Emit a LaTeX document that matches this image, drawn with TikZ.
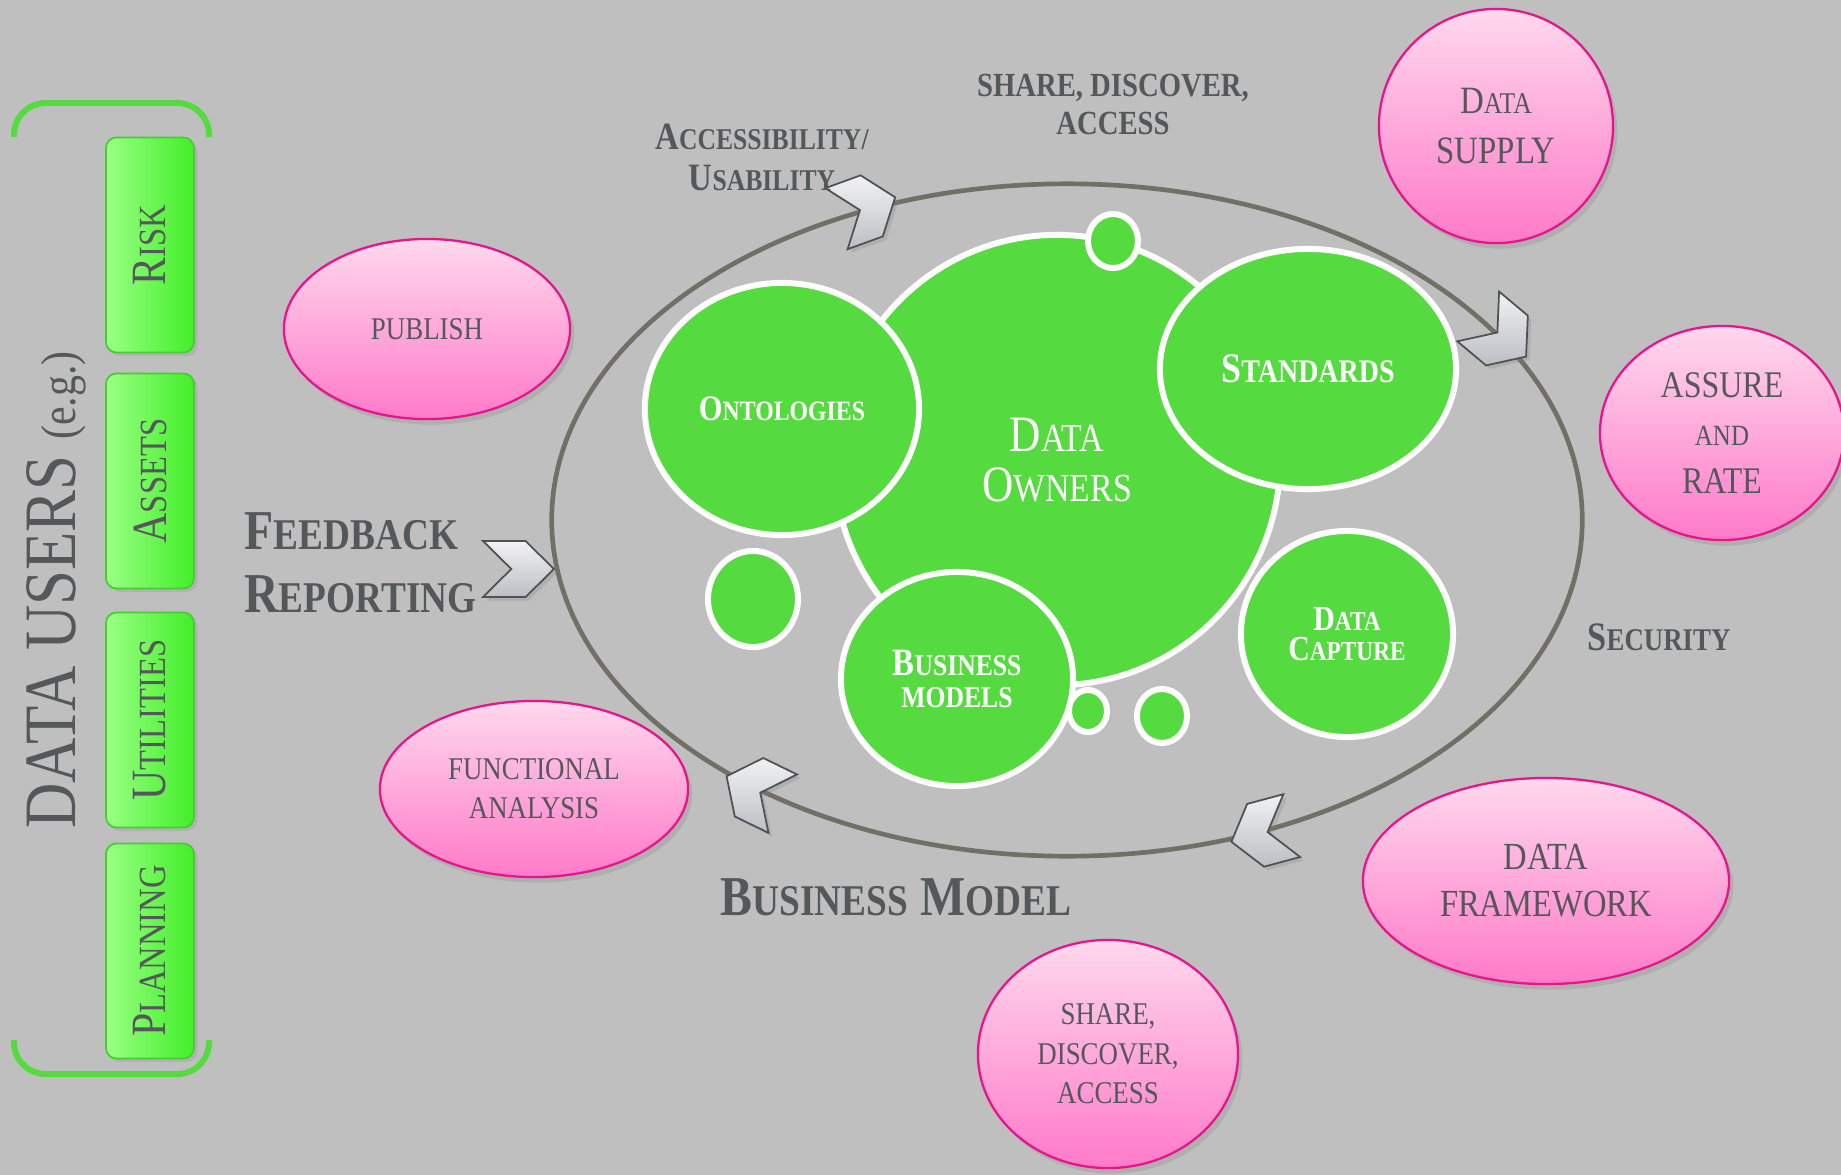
\documentclass[tikz,border=0pt]{standalone}
\usepackage{fontspec}
\setmainfont{Liberation Serif}[FakeStretch=0.85]
\usepackage{tikz}
\usetikzlibrary{shapes.geometric,shadows}

\definecolor{bggray}{RGB}{191,191,191}
\definecolor{txtgray}{RGB}{84,88,91}
\definecolor{owngreen}{RGB}{85,219,63}
\definecolor{ringgray}{RGB}{112,112,102}
\definecolor{pinkedge}{RGB}{230,22,138}
\definecolor{pinktop}{RGB}{255,216,237}
\definecolor{pinkbot}{RGB}{255,122,201}
\definecolor{boxlight}{RGB}{154,255,134}
\definecolor{boxdark}{RGB}{66,238,40}
\definecolor{boxedge}{RGB}{70,205,50}
\definecolor{chevlight}{RGB}{242,242,244}
\definecolor{chevdark}{RGB}{188,190,195}
\definecolor{chevedge}{RGB}{78,82,85}

\newcommand\smcap[2]{#1\scalebox{.78}{#2}}

\tikzset{
	pinkball/.style={ellipse, draw=pinkedge, line width=0.65pt, top color=pinktop, bottom color=pinkbot, inner sep=0pt, text=txtgray, align=center, drop shadow={opacity=0.25, shadow xshift=1.2pt, shadow yshift=-1.6pt}},
	greenball/.style={ellipse, draw=white, line width=1.7pt, fill=owngreen, inner sep=0pt, text=white, align=center},
	userbox/.style={rectangle, rounded corners=3pt, draw=boxedge, line width=0.5pt, left color=boxlight, right color=boxdark, minimum width=2.15cm, minimum height=0.88cm, rotate=90, text=txtgray, font=\fontsize{14}{14}\selectfont, drop shadow={opacity=0.2, shadow xshift=1pt, shadow yshift=-1pt}},
	bracket/.style={draw=owngreen, line width=1.7pt, rounded corners=9pt},
	label/.style={text=txtgray, align=center, font=\bfseries},
	chev/.pic={\draw[line width=0.5pt, draw=chevedge, top color=chevlight, bottom color=chevdark, drop shadow={opacity=0.25, shadow xshift=1pt, shadow yshift=-1pt}] (-24,-26) -- (6,-26) -- (26,0) -- (6,26) -- (-24,26) -- (-4,0) -- cycle;}
}

\begin{document}
\begin{tikzpicture}[x=0.01cm, y=-0.01cm]
	\fill[bggray] (0,0) rectangle (1841,1175);
	\useasboundingbox (0,0) rectangle (1841,1175);

	\draw[bracket] (14,137) -- (14,103) -- (209,103) -- (209,137);
	\draw[bracket] (14,1040) -- (14,1074) -- (209,1074) -- (209,1040);
	\node[rotate=90, text=txtgray] (users) at (56,590) {\fontsize{21}{21}\selectfont DATA USERS \fontsize{14}{14}\selectfont(e.g.)};
	\node[userbox] (risk) at (150,245) {\smcap{R}{ISK}};
	\node[userbox] (assets) at (150,481) {\smcap{A}{SSETS}};
	\node[userbox] (utilities) at (150,720) {\smcap{U}{TILITIES}};
	\node[userbox] (planning) at (150,951) {\smcap{P}{LANNING}};

	\node[ellipse, draw=ringgray, line width=1.33pt, minimum width=10.3cm, minimum height=6.72cm] (loop) at (1067,520) {};

	\node[greenball, minimum width=4.46cm, minimum height=4.5cm, font=\fontsize{14.5}{14}\selectfont] (owners) at (1057,460) {\smcap{D}{ATA}\\\smcap{O}{WNERS}};
	\node[greenball, minimum width=0.5cm, minimum height=0.54cm] (dot1) at (1113,241) {};
	\node[greenball, minimum width=2.74cm, minimum height=2.52cm, font=\bfseries\fontsize{10.2}{12}\selectfont] (ontologies) at (782,409) {\smcap{O}{NTOLOGIES}};
	\node[greenball, minimum width=2.96cm, minimum height=2.4cm, font=\bfseries\fontsize{12}{12}\selectfont] (standards) at (1308,369) {\smcap{S}{TANDARDS}};
	\node[greenball, minimum width=2.32cm, minimum height=2.14cm, font=\bfseries\fontsize{11}{9}\selectfont] (business) at (957,679) {\smcap{B}{USINESS}\\\scalebox{.78}{MODELS}};
	\node[greenball, minimum width=2.12cm, minimum height=2.06cm, font=\bfseries\fontsize{10}{8.5}\selectfont] (capture) at (1347,634) {\smcap{D}{ATA}\\\smcap{C}{APTURE}};
	\node[greenball, minimum width=0.9cm, minimum height=0.96cm] (dot2) at (753,599) {};
	\node[greenball, minimum width=0.38cm, minimum height=0.42cm] (dot3) at (1088,711) {};
	\node[greenball, minimum width=0.5cm, minimum height=0.54cm] (dot4) at (1162,716) {};

	\pic[rotate=20, scale=1.25] at (loop.123) {chev};
	\pic[rotate=-40, scale=1.25] at (loop.23) {chev};
	\pic[rotate=195, scale=1.25] at (loop.-58) {chev};
	\pic[rotate=154, scale=1.25] at (loop.221) {chev};
	\pic[xscale=1.42, yscale=1.08] at (517,569) {chev};

	\node[pinkball, minimum width=2.86cm, minimum height=1.8cm, font=\fontsize{9}{11}\selectfont] (publish) at (427,329) {PUBLISH};
	\node[pinkball, minimum width=3.08cm, minimum height=1.76cm, font=\fontsize{9}{11}\selectfont] (functional) at (534,789) {FUNCTIONAL\\ANALYSIS};
	\node[pinkball, minimum width=2.34cm, minimum height=2.34cm, font=\fontsize{11}{14}\selectfont] (supply) at (1496,126) {\smcap{D}{ATA}\\SUPPLY};
	\node[pinkball, minimum width=2.44cm, minimum height=2.14cm, font=\fontsize{10.7}{13.6}\selectfont] (assure) at (1722,433) {ASSURE\\\scalebox{.78}{AND}\\RATE};
	\node[pinkball, minimum width=3.66cm, minimum height=2.06cm, font=\fontsize{10.9}{13.4}\selectfont] (framework) at (1546,881) {DATA\\FRAMEWORK};
	\node[pinkball, minimum width=2.6cm, minimum height=2.28cm, font=\fontsize{9}{11.2}\selectfont] (sharing) at (1108,1054) {SHARE,\\DISCOVER,\\ACCESS};

	\node[label, font=\bfseries\fontsize{9.6}{10.8}\selectfont] (share) at (1113,104) {SHARE, DISCOVER,\\ACCESS};
	\node[label, font=\bfseries\fontsize{11}{11.7}\selectfont] (access) at (762,157) {\smcap{A}{CCESSIBILITY/}\\\smcap{U}{SABILITY}};
	\node[label, align=left, anchor=west, font=\bfseries\fontsize{16}{18}\selectfont] (feedback) at (232,563) {\smcap{F}{EEDBACK}\\\smcap{R}{EPORTING}};
	\node[label, font=\bfseries\fontsize{16}{16}\selectfont] (bizmodel) at (896,897) {\smcap{B}{USINESS} \smcap{M}{ODEL}};
	\node[label, font=\bfseries\fontsize{11.5}{11.5}\selectfont] (security) at (1659,637) {\smcap{S}{ECURITY}};
\end{tikzpicture}
\end{document}
